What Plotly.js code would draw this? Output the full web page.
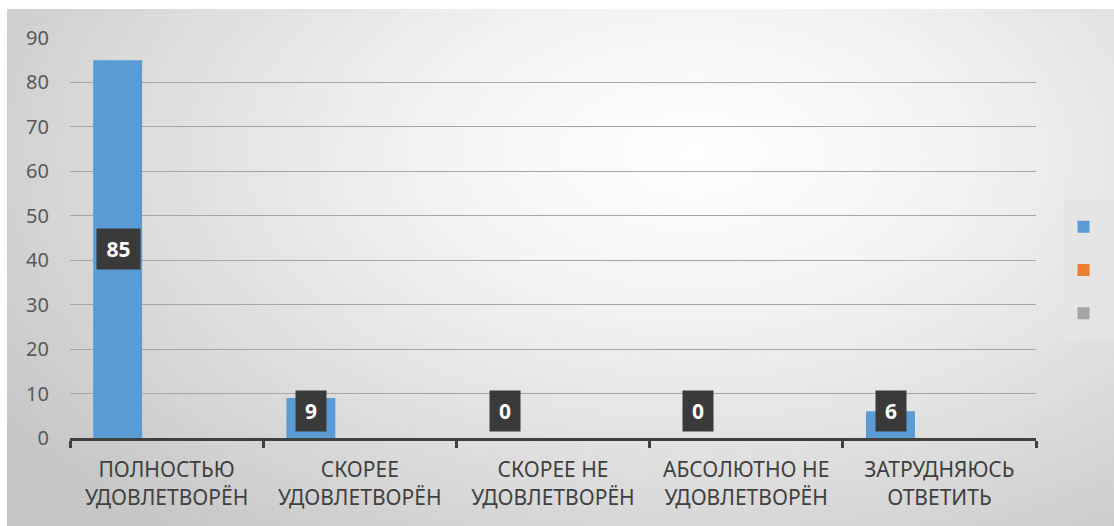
<!DOCTYPE html>
<html>
<head>
<meta charset="utf-8">
<script src="https://cdn.plot.ly/plotly-3.0.1.min.js"></script>
<style>
html,body{margin:0;padding:0;background:#ffffff;}
#frame{position:absolute;left:7px;top:9px;width:1107px;height:517px;
background:radial-gradient(ellipse 75% 95% at 62% 28%, #ffffff 0%, #f4f4f4 30%, #dedede 65%, #c6c6c6 100%);}
#chart{position:absolute;left:0;top:0;width:1114px;height:526px;}
</style>
</head>
<body>
<div id="frame"></div>
<div id="chart"></div>
<script>
var categories = ['ПОЛНОСТЬЮ<br>УДОВЛЕТВОРЁН','СКОРЕЕ<br>УДОВЛЕТВОРЁН','СКОРЕЕ НЕ<br>УДОВЛЕТВОРЁН','АБСОЛЮТНО НЕ<br>УДОВЛЕТВОРЁН','ЗАТРУДНЯЮСЬ<br>ОТВЕТИТЬ'];
var series1 = [85, 9, 0, 0, 6];
var series2 = [null, null, null, null, null];
var series3 = [null, null, null, null, null];
var yTicks = [0,10,20,30,40,50,60,70,80,90];

var traces = [
  {type:'bar', x:categories, y:series1, name:' ', marker:{color:'#5b9bd5'}, hoverinfo:'y'},
  {type:'bar', x:categories, y:series2, name:' ', marker:{color:'#ed7d31'}, hoverinfo:'y'},
  {type:'bar', x:categories, y:series3, name:' ', marker:{color:'#a5a5a5'}, hoverinfo:'y'}
];

var annotations = [];
series1.forEach(function(v,i){
  var big = v >= 10;
  annotations.push({
    x: categories[i], y: big ? v/2 : 0, xref:'x', yref:'y',
    yanchor: big ? 'middle' : 'bottom', yshift: big ? 0 : 6,
    xshift: -48.5, showarrow:false,
    text:'<b>'+v+'</b>', font:{family:'Noto Sans, Open Sans, sans-serif', size:21, color:'#ffffff'},
    bgcolor:'#3a3a3a', borderpad:6, width: String(v).length * 13 + 5
  });
});

var layout = {
  width:1114, height:526,
  margin:{l:70, r:78, t:38, b:88, autoexpand:false},
  paper_bgcolor:'rgba(0,0,0,0)', plot_bgcolor:'rgba(0,0,0,0)',
  barmode:'group', bargap:0.24, bargroupgap:0,
  font:{family:'Noto Sans, Open Sans, sans-serif', color:'#595959', size:19},
  xaxis:{
    tickson:'boundaries', ticks:'outside', ticklen:7, tickwidth:3, tickcolor:'#404040',
    showline:true, linecolor:'#404040', linewidth:3, showgrid:false,
    ticklabelstandoff:11,
    tickfont:{size:21, color:'#404040'}, fixedrange:true
  },
  yaxis:{
    range:[0,90], tickvals:yTicks, ticktext:yTicks.map(String),
    showgrid:true, gridcolor:'#a6a6a6', gridwidth:1, zeroline:false,
    showline:false, ticks:'', ticklabelstandoff:20,
    tickfont:{size:20, color:'#595959'}, fixedrange:true
  },
  showlegend:true,
  legend:{
    x:1.0285, xanchor:'left', y:0.42, yanchor:'middle',
    bgcolor:'rgba(228,228,228,0.9)', font:{size:31},
    itemwidth:30, tracegroupgap:0
  },
  annotations:annotations
};

Plotly.newPlot('chart', traces, layout, {displayModeBar:false, staticPlot:true});
</script>
</body>
</html>
